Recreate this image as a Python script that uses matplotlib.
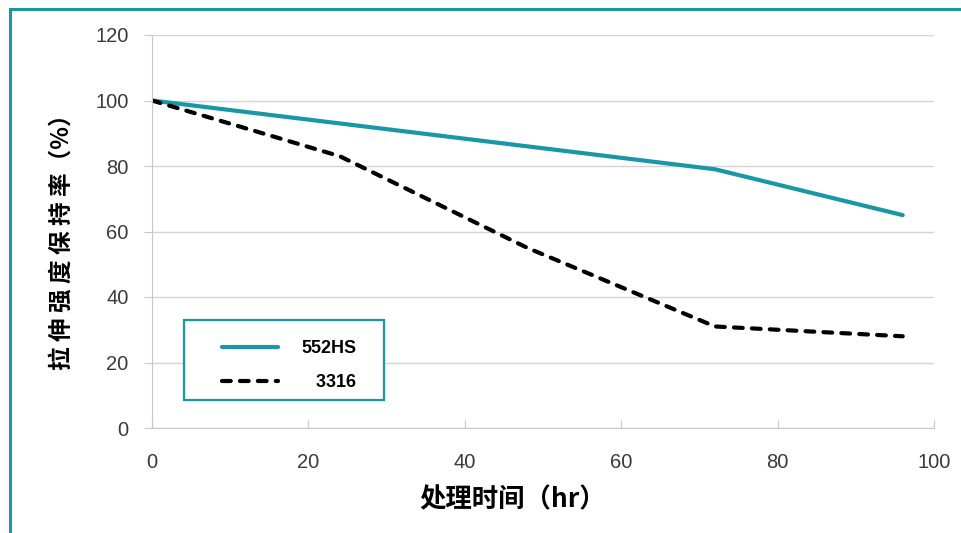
import matplotlib
matplotlib.use('Agg')
import matplotlib.pyplot as plt
from matplotlib.patches import Rectangle

# data
hours_552 = [0, 72, 96]
retention_552 = [100, 79, 65]
hours_3316 = [0, 24, 48, 72, 96]
retention_3316 = [100, 83, 55, 31, 28]

x_ticks = [0, 20, 40, 60, 80, 100]
y_ticks = [0, 20, 40, 60, 80, 100, 120]

teal = '#1a97a5'
cjk = ['Noto Sans CJK SC', 'DejaVu Sans']
W, H = 961, 533

fig = plt.figure(figsize=(9.61, 5.33), dpi=100)
ax = fig.add_axes([152 / W, 1 - 428 / H, (934 - 152) / W, (428 - 35) / H])

ax.plot(hours_552, retention_552, color=teal, lw=3.0, solid_capstyle='round', label='552HS')
ax.plot(hours_3316, retention_3316, color='black', lw=3.0, ls=(0, (2.1, 2.2)),
        dash_capstyle='round', label='   3316')

ax.set_xlim(0, 100)
ax.set_ylim(0, 120)
ax.set_xticks(x_ticks)
ax.set_yticks(y_ticks)
ax.grid(axis='y', color='#d4d4d4', lw=1)
ax.set_axisbelow(True)
for side in ['top', 'right']:
    ax.spines[side].set_visible(False)
for side in ['left', 'bottom']:
    ax.spines[side].set_color('#c8c8c8')
ax.tick_params(axis='y', length=6, color='#c8c8c8', pad=11, labelsize=14.5, labelcolor='#3a3a3a')
ax.tick_params(axis='x', direction='in', length=6, color='#c8c8c8', pad=18, labelsize=14.5,
               labelcolor='#3a3a3a')
for lab in ax.get_xticklabels() + ax.get_yticklabels():
    lab.set_family('Liberation Sans')

ax.set_xlabel('处理时间（hr）', family=cjk, fontsize=19, fontweight='bold', va='top')
ax.xaxis.set_label_coords((513 - 152) / 782, (428 - 486) / 393)
ax.set_ylabel('拉 伸 强 度 保 持 率（%）', family=cjk, fontsize=17, fontweight='bold')
ax.yaxis.set_label_coords((74 - 152) / 782, (428 - 236) / 393)

# legend entries without their own frame, teal box drawn around them
leg = ax.legend(loc='upper left', bbox_to_anchor=(222 / W, 1 - 340 / H),
                bbox_transform=fig.transFigure, frameon=False, borderaxespad=0,
                handlelength=3.1, handletextpad=1.3, borderpad=0, labelspacing=0.95,
                prop={'family': 'Liberation Sans', 'weight': 'bold', 'size': 13})
box = Rectangle((184 / W, 1 - 400 / H), 200 / W, 80 / H, transform=fig.transFigure,
                facecolor='white', edgecolor=teal, lw=1.6, zorder=4, clip_on=False)
ax.add_artist(box)
leg.set_zorder(5)

# teal border around the chart area
fig.patches.append(Rectangle((10 / W, -0.1), 1.2, 1 - 9 / H + 0.1, transform=fig.transFigure,
                             fill=False, edgecolor=teal, lw=2.2))

plt.savefig('out.png', dpi=100)
plt.close()
